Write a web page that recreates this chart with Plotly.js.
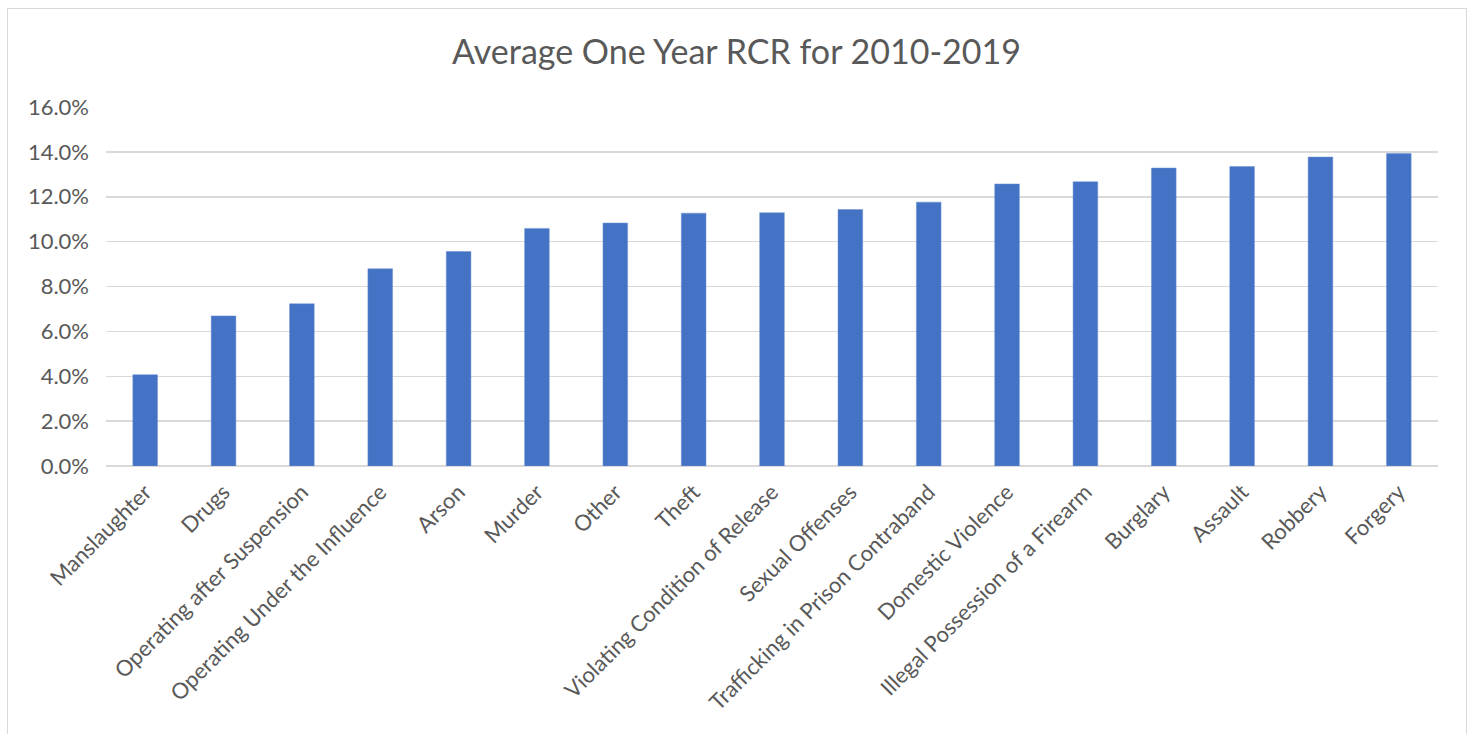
<!DOCTYPE html>
<html>
<head>
<meta charset="utf-8">
<script src="https://cdn.plot.ly/plotly-3.0.1.min.js"></script>
<style>
  html, body { margin: 0; padding: 0; background: #fff; overflow: hidden; }
  #frame { position: absolute; left: 7px; top: 8px; width: 1460px; height: 760px; border: 1px solid #d9d9d9; box-sizing: border-box; pointer-events: none; }
  #chart { position: absolute; left: 0; top: 0; width: 1473px; height: 734px; }
</style>
</head>
<body>
<div id="chart"></div>
<div id="frame"></div>
<script>
const categories = [
  "Manslaughter", "Drugs", "Operating after Suspension", "Operating Under the Influence",
  "Arson", "Murder", "Other", "Theft", "Violating Condition of Release", "Sexual Offenses",
  "Trafficking in Prison Contraband", "Domestic Violence", "Illegal Possession of a Firearm",
  "Burglary", "Assault", "Robbery", "Forgery"
];
const rcrValues = [
  0.0407, 0.0669, 0.0723, 0.0879, 0.0956, 0.1059, 0.1083, 0.1127, 0.1129, 0.1143,
  0.1176, 0.1257, 0.1267, 0.1328, 0.1335, 0.1377, 0.1393
];
const yTickValues = [0, 0.02, 0.04, 0.06, 0.08, 0.10, 0.12, 0.14, 0.16];
const chartTitle = "Average One Year RCR for 2010-2019";

const textColor = "#595959";
const fontFamily = "Lato, 'Open Sans', sans-serif";

const data = [{
  type: "bar",
  x: categories,
  y: rcrValues,
  marker: { color: "#4472C4", line: { color: "#6f93d4", width: 0.5 } },
  hoverinfo: "none"
}];

const layout = {
  width: 1473,
  height: 734,
  margin: { l: 106, r: 35, t: 107, b: 268 },
  paper_bgcolor: "#ffffff",
  plot_bgcolor: "#ffffff",
  bargap: 0.685,
  showlegend: false,
  title: {
    text: chartTitle,
    font: { family: fontFamily, size: 34, color: textColor },
    x: 0.5, xanchor: "center",
    y: 1 - 52 / 734, yanchor: "middle",
    xref: "container", yref: "container"
  },
  xaxis: {
    type: "category",
    tickangle: -45,
    tickfont: { family: fontFamily, size: 22, color: textColor },
    showgrid: false,
    showline: false,
    ticks: "",
    ticklen: 0,
    ticklabelstandoff: 8,
    automargin: false
  },
  yaxis: {
    range: [0, 0.16],
    tickvals: yTickValues,
    tickformat: ".1%",
    tickfont: { family: fontFamily, size: 22, color: textColor },
    showgrid: true,
    gridcolor: "#d9d9d9",
    gridwidth: 1.5,
    zeroline: true,
    zerolinecolor: "#d9d9d9",
    zerolinewidth: 1.5,
    showline: false,
    ticks: "",
    ticklabelstandoff: 16,
    automargin: false,
    fixedrange: true
  }
};

Plotly.newPlot("chart", data, layout, { displayModeBar: false, staticPlot: true });
</script>
</body>
</html>
